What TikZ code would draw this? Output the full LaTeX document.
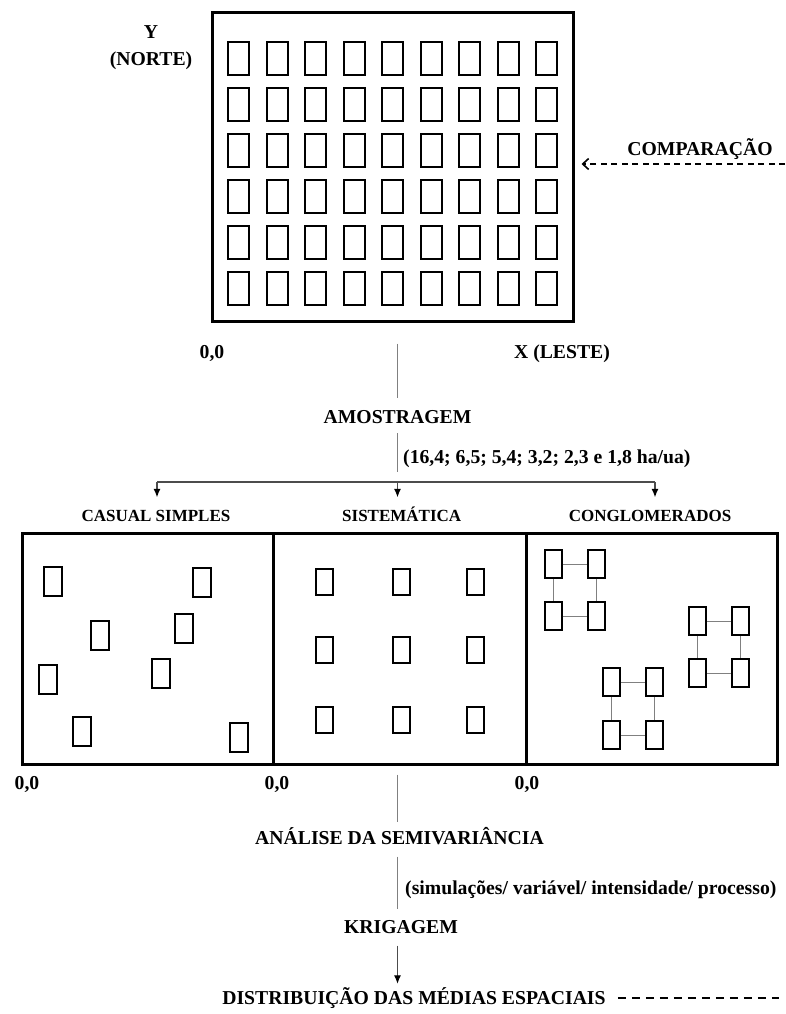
\documentclass[tikz,border=0pt]{standalone}
\usepackage{fontspec}
\setmainfont{Liberation Serif}
\usepackage{tikz}
\usetikzlibrary{arrows.meta}

\begin{document}
\begin{tikzpicture}[x = 1pt, y = -1pt,
    bigtext/.style = {inner sep = 0pt, text height = 13pt, text depth = 0pt, font = \fontsize{19.7}{22}\selectfont\bfseries},
    boxtitle/.style = {inner sep = 0pt, text height = 12pt, text depth = 0pt, font = \fontsize{17}{20}\selectfont\bfseries},
    frame/.style = {draw, line width = 3pt, inner sep = 0pt},
    plot/.style = {draw, line width = 2pt, inner sep = 0pt, minimum width = 21pt, minimum height = 33pt},
    sample/.style = {draw, line width = 1.8pt, inner sep = 0pt, minimum width = 18pt, minimum height = 29pt},
    grid/.style = {draw, line width = 1.8pt, inner sep = 0pt, minimum width = 17pt, minimum height = 26pt},
    cluster/.style = {draw, line width = 1.8pt, inner sep = 0pt, minimum width = 17pt, minimum height = 28pt},
    link/.style = {draw = gray, line width = 1.1pt},
    tie/.style = {draw = gray, line width = 0.9pt},
    branch/.style = {draw = black!70, line width = 1.1pt, -{Latex[length = 8.5pt, width = 7pt, color = black]}}]
    \useasboundingbox (+0.0, +0.0) rectangle (+785.0, +1014.0);
    
    % Field
    \node[frame, minimum width = 361pt, minimum height = 308pt] (field) at (+392.5, +167.0) {};
    %
    \foreach \i in {0, ..., 8} {
        \foreach \j in {0, ..., 5} {
            \node[plot] (p\i\j) at (+238.5 + 38.5 * \i, +58.5 + 46.0 * \j) {};
        }
    }
    
    \node[bigtext] (ylab) at (+151.0, +32.0) {Y};
    %
    \node[bigtext] (north) at (+151.0, +59.0) {(NORTE)};
    %
    \node[bigtext] (orig) at (+212.0, +352.0) {0,0};
    %
    \node[bigtext] (east) at (+562.0, +352.0) {X (LESTE)};
    
    \node[bigtext] (cmp) at (+700.0, +149.0) {COMPARAÇÃO};
    %
    \coordinate (cmpin) at (+785.0, +164.0);
    
    % Sampling
    \coordinate (spine) at (+397.5, +0.0);
    %
    \node[bigtext] (amo) at (+397.5, +417.0) {AMOSTRAGEM};
    %
    \node[bigtext, anchor = west] (dens) at (+403.0, +457.0) {(16,4; 6,5; 5,4; 3,2; 2,3 e 1,8 ha/ua)};
    
    \coordinate (split) at (+397.5, +482.0);
    %
    \coordinate (brl) at (+157.0, +482.0);
    %
    \coordinate (brr) at (+655.0, +482.0);
    
    \node[boxtitle] (cas) at (+156.0, +515.0) {CASUAL SIMPLES};
    %
    \node[boxtitle] (sis) at (+401.7, +515.0) {SISTEMÁTICA};
    %
    \node[boxtitle] (con) at (+650.0, +515.0) {CONGLOMERADOS};
    
    % Boxes
    \node[frame, minimum width = 251.5pt, minimum height = 231pt] (casbox) at (+147.75, +648.5) {};
    %
    \node[frame, minimum width = 252.5pt, minimum height = 231pt] (sisbox) at (+399.75, +648.5) {};
    %
    \node[frame, minimum width = 251pt, minimum height = 231pt] (conbox) at (+651.5, +648.5) {};
    
    \node[bigtext] (orig1) at (+27.0, +783.0) {0,0};
    %
    \node[bigtext] (orig2) at (+277.0, +783.0) {0,0};
    %
    \node[bigtext] (orig3) at (+527.0, +783.0) {0,0};
    
    % Casual
    \node[sample] (c1) at (+53.0, +581.5) {};
    \node[sample] (c2) at (+202.0, +582.5) {};
    \node[sample] (c3) at (+100.0, +635.5) {};
    \node[sample] (c4) at (+184.0, +628.5) {};
    \node[sample] (c5) at (+48.0, +679.5) {};
    \node[sample] (c6) at (+161.0, +673.5) {};
    \node[sample] (c7) at (+82.0, +731.5) {};
    \node[sample] (c8) at (+239.0, +737.5) {};
    
    % Systematic
    \node[grid] (s11) at (+324.5, +582.0) {};
    \node[grid] (s12) at (+401.5, +582.0) {};
    \node[grid] (s13) at (+475.5, +582.0) {};
    \node[grid] (s21) at (+324.5, +650.0) {};
    \node[grid] (s22) at (+401.5, +650.0) {};
    \node[grid] (s23) at (+475.5, +650.0) {};
    \node[grid] (s31) at (+324.5, +720.0) {};
    \node[grid] (s32) at (+401.5, +720.0) {};
    \node[grid] (s33) at (+475.5, +720.0) {};
    
    % Clusters
    \node[cluster] (a1) at (+553.5, +564.0) {};
    \node[cluster] (a2) at (+596.5, +564.0) {};
    \node[cluster] (a3) at (+553.5, +616.0) {};
    \node[cluster] (a4) at (+596.5, +616.0) {};
    %
    \node[cluster] (b1) at (+697.5, +621.0) {};
    \node[cluster] (b2) at (+740.5, +621.0) {};
    \node[cluster] (b3) at (+697.5, +673.0) {};
    \node[cluster] (b4) at (+740.5, +673.0) {};
    %
    \node[cluster] (d1) at (+611.5, +682.0) {};
    \node[cluster] (d2) at (+654.5, +682.0) {};
    \node[cluster] (d3) at (+611.5, +735.0) {};
    \node[cluster] (d4) at (+654.5, +735.0) {};
    
    \draw[tie] (a1) -- (a2) (a3) -- (a4) (a1) -- (a3) (a2) -- (a4);
    %
    \draw[tie] (b1) -- (b2) (b3) -- (b4) (b1) -- (b3) (b2) -- (b4);
    %
    \draw[tie] (d1) -- (d2) (d3) -- (d4) (d1) -- (d3) (d2) -- (d4);
    
    % Analysis
    \node[bigtext] (ana) at (+399.5, +838.0) {ANÁLISE DA SEMIVARIÂNCIA};
    %
    \node[bigtext, anchor = west] (sim) at (+405.0, +888.0) {(simulações/ variável/ intensidade/ processo)};
    %
    \node[bigtext] (kri) at (+401.0, +927.0) {KRIGAGEM};
    %
    \node[bigtext] (dis) at (+414.0, +998.0) {DISTRIBUIÇÃO DAS MÉDIAS ESPACIAIS};
    %
    \coordinate (disout) at (+779.0, +998.0);
    
    % Lines
    \draw[link, shorten < = 21pt, shorten > = 12.5pt] (spine |- field.south) -- (spine |- amo.north);
    %
    \draw[link, shorten < = 9.5pt, shorten > = 10pt] (spine |- amo.south) -- (split);
    %
    \draw[draw = black!70, line width = 1.1pt] (brl) -- (brr);
    %
    \draw[branch, shorten > = 11.5pt] (brl) -- (brl |- cas.north);
    %
    \draw[branch, shorten > = 11.5pt] (split) -- (split |- sis.north);
    %
    \draw[branch, shorten > = 11.5pt] (brr) -- (brr |- con.north);
    
    \draw[link, shorten < = 9pt, shorten > = 9.5pt] (spine |- sisbox.south) -- (spine |- ana.north);
    %
    \draw[link, shorten < = 12pt, shorten > = 11pt] (spine |- ana.south) -- (spine |- kri.north);
    %
    \draw[branch, shorten < = 12pt, shorten > = 7.5pt] (spine |- kri.south) -- (spine |- dis.north);
    
    \draw[line width = 1.6pt, dash pattern = on 6pt off 4.5pt, -{Straight Barb[length = 6pt, width = 11pt]}, shorten > = 7pt] (cmpin) -- (cmpin -| field.east);
    %
    \draw[line width = 1.5pt, dash pattern = on 8pt off 6pt, shorten < = 12pt] (dis.east) -- (disout);
\end{tikzpicture}
\end{document}
